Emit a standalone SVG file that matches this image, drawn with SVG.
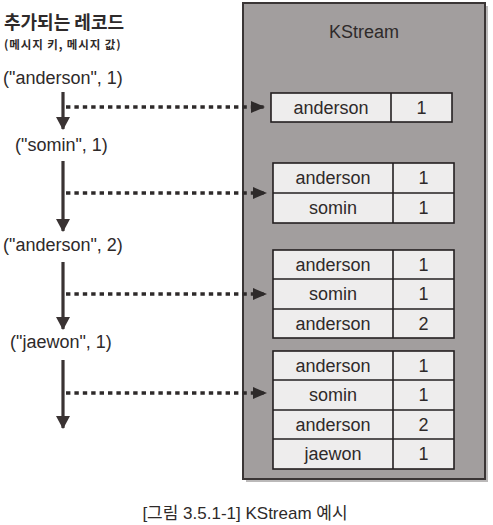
<svg xmlns="http://www.w3.org/2000/svg" width="493" height="525" viewBox="0 0 493 525">
<style>
  text { font-family: "Liberation Sans", "Noto Sans CJK KR", sans-serif; fill: #2e2a2a; }
  .kr { font-family: "Noto Sans CJK KR", "Liberation Sans", sans-serif; }
  .lbl { font-size: 18px; }
  .cell { fill: #eeeded; stroke: #231f20; stroke-width: 1.6; }
  .div { stroke: #231f20; stroke-width: 1.6; }
  .ct { font-size: 18px; text-anchor: middle; }
  .flow { stroke: #3a3333; stroke-width: 3.2; fill: none; }
  .dash { stroke: #2e2a2a; stroke-width: 3.6; stroke-dasharray: 4.4 4; fill: none; }
</style>
<defs>
  <marker id="down" viewBox="0 0 13 14" refX="12" refY="7" markerWidth="13" markerHeight="14" markerUnits="userSpaceOnUse" orient="auto">
    <path d="M0,0 L13,7 L0,14 Z" fill="#3a3333"/>
  </marker>
  <marker id="right" viewBox="0 0 14 12" refX="14" refY="6" markerWidth="14" markerHeight="12" markerUnits="userSpaceOnUse" orient="auto">
    <path d="M0,0 L14,6 L0,12 Z" fill="#2e2a2a"/>
  </marker>
</defs>
<rect width="493" height="525" fill="#ffffff"/>

<g id="header">
  <text class="kr" x="4" y="29" font-size="18" font-weight="bold">추가되는 레코드</text>
  <text class="kr" x="4" y="49" font-size="11.5" font-weight="bold" letter-spacing="0.9">(메시지 키, 메시지 값)</text>
</g>

<g id="records">
  <text class="lbl" x="3" y="84">("anderson", 1)</text>
  <text class="lbl" x="15" y="151">("somin", 1)</text>
  <text class="lbl" x="3" y="251">("anderson", 2)</text>
  <text class="lbl" x="10" y="348">("jaewon", 1)</text>
</g>

<g id="kstream">
  <rect x="246" y="6" width="242" height="476" fill="#8e8a8a" opacity="0.6"/>
  <rect x="243" y="3" width="242" height="476" fill="#a29e9e" stroke="#3a3535" stroke-width="2"/>
  <text x="364" y="38" font-size="18" text-anchor="middle">KStream</text>
</g>

<g id="table1">
  <rect class="cell" x="271" y="93" width="181" height="29"/>
  <line class="div" x1="391" y1="93" x2="391" y2="122"/>
  <text class="ct" x="331" y="114">anderson</text>
  <text class="ct" x="421.5" y="114">1</text>
</g>

<g id="table2">
  <rect class="cell" x="273" y="163" width="181" height="60"/>
  <line class="div" x1="393" y1="163" x2="393" y2="223"/>
  <line class="div" x1="273" y1="193" x2="454" y2="193"/>
  <text class="ct" x="333" y="184">anderson</text>
  <text class="ct" x="423.5" y="184">1</text>
  <text class="ct" x="333" y="214">somin</text>
  <text class="ct" x="423.5" y="214">1</text>
</g>

<g id="table3">
  <rect class="cell" x="273" y="250" width="181" height="88"/>
  <line class="div" x1="393" y1="250" x2="393" y2="338"/>
  <line class="div" x1="273" y1="279" x2="454" y2="279"/>
  <line class="div" x1="273" y1="309" x2="454" y2="309"/>
  <text class="ct" x="333" y="271">anderson</text>
  <text class="ct" x="423.5" y="271">1</text>
  <text class="ct" x="333" y="300">somin</text>
  <text class="ct" x="423.5" y="300">1</text>
  <text class="ct" x="333" y="330">anderson</text>
  <text class="ct" x="423.5" y="330">2</text>
</g>

<g id="table4">
  <rect class="cell" x="273" y="351" width="181" height="118"/>
  <line class="div" x1="393" y1="351" x2="393" y2="469"/>
  <line class="div" x1="273" y1="380" x2="454" y2="380"/>
  <line class="div" x1="273" y1="410" x2="454" y2="410"/>
  <line class="div" x1="273" y1="439" x2="454" y2="439"/>
  <text class="ct" x="333" y="372">anderson</text>
  <text class="ct" x="423.5" y="372">1</text>
  <text class="ct" x="333" y="401">somin</text>
  <text class="ct" x="423.5" y="401">1</text>
  <text class="ct" x="333" y="431">anderson</text>
  <text class="ct" x="423.5" y="431">2</text>
  <text class="ct" x="333" y="460">jaewon</text>
  <text class="ct" x="423.5" y="460">1</text>
</g>

<g id="connectors">
  <line class="flow" x1="63" y1="92" x2="63" y2="129" marker-end="url(#down)"/>
  <line class="flow" x1="63" y1="161" x2="63" y2="231" marker-end="url(#down)"/>
  <line class="flow" x1="63" y1="262" x2="63" y2="329" marker-end="url(#down)"/>
  <line class="flow" x1="63" y1="360" x2="63" y2="428" marker-end="url(#down)"/>
  <line class="dash" x1="66" y1="107" x2="265" y2="107" marker-end="url(#right)"/>
  <line class="dash" x1="66" y1="193" x2="267" y2="193" marker-end="url(#right)"/>
  <line class="dash" x1="66" y1="294" x2="267" y2="294" marker-end="url(#right)"/>
  <line class="dash" x1="66" y1="393" x2="267" y2="393" marker-end="url(#right)"/>
</g>

<g id="caption">
  <text x="245" y="519" font-size="17" text-anchor="middle">[그림 3.5.1-1] KStream 예시</text>
</g>
</svg>
